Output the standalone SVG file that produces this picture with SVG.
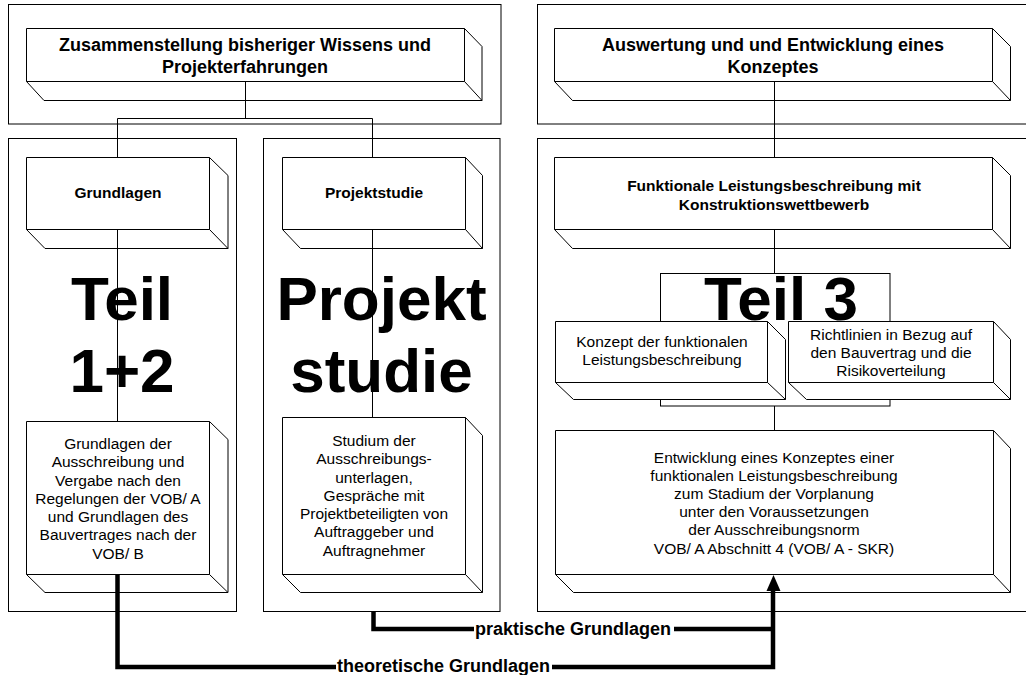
<svg xmlns="http://www.w3.org/2000/svg" width="1026" height="675" viewBox="0 0 1026 675">
  <style>
    .frame { fill: none; stroke: #000; stroke-width: 1; }
    .solid { fill: #fff; stroke: #000; stroke-width: 1; stroke-linejoin: miter; }
    .edge { fill: none; stroke: #000; stroke-width: 1; }
    .conn { fill: none; stroke: #000; stroke-width: 1; }
    .thick { fill: none; stroke: #000; stroke-width: 4.5; stroke-linejoin: miter; }
    text { font-family: "Liberation Sans", Arial, sans-serif; fill: #000; text-anchor: middle; }
    .h1 { font-size: 18px; font-weight: bold; }
    .h2 { font-size: 15.5px; font-weight: bold; }
    .body { font-size: 15.5px; }
    .big { font-size: 62px; font-weight: bold; }
    .lbl { font-size: 18px; font-weight: bold; text-anchor: start; }
  </style>

  <!-- outer frames -->
  <g id="frames">
    <rect class="frame" x="8.5" y="4.5" width="492.5" height="119.5"/>
    <rect class="frame" x="537.5" y="4.5" width="500" height="119.5"/>
    <rect class="frame" x="8.5" y="138.5" width="228" height="473"/>
    <rect class="frame" x="263.5" y="138.5" width="236.5" height="473"/>
    <rect class="frame" x="537.5" y="138.5" width="500" height="473"/>
  </g>

  <!-- 3D boxes -->
  <g id="box-zusammenstellung">
    <polygon class="solid" points="26.5,28.5 464.5,28.5 482,46.5 482,100.5 44,100.5 26.5,81.5"/>
    <path class="edge" d="M26.5 81.5 H464.5 V28.5 M464.5 81.5 L482 100.5"/>
    <text class="h1" x="245" y="50.5">Zusammenstellung bisheriger Wissens und</text>
    <text class="h1" x="245" y="73">Projekterfahrungen</text>
  </g>

  <g id="box-auswertung">
    <polygon class="solid" points="554.5,28.5 992.5,28.5 1010.5,46.5 1010.5,100.5 572.5,100.5 554.5,81.5"/>
    <path class="edge" d="M554.5 81.5 H992.5 V28.5 M992.5 81.5 L1010.5 100.5"/>
    <text class="h1" x="773" y="50.5">Auswertung und und Entwicklung eines</text>
    <text class="h1" x="773" y="73">Konzeptes</text>
  </g>

  <g id="box-grundlagen">
    <polygon class="solid" points="26.5,157.5 209.5,157.5 228,175.5 228,248.5 45,248.5 26.5,229.5"/>
    <path class="edge" d="M26.5 229.5 H209.5 V157.5 M209.5 229.5 L228 248.5"/>
    <text class="h2" x="118" y="198">Grundlagen</text>
  </g>

  <g id="box-projektstudie">
    <polygon class="solid" points="282.5,157.5 465.5,157.5 482.5,175.5 482.5,248.5 300.5,248.5 282.5,229.5"/>
    <path class="edge" d="M282.5 229.5 H465.5 V157.5 M465.5 229.5 L482.5 248.5"/>
    <text class="h2" x="374" y="198">Projektstudie</text>
  </g>

  <g id="box-funktionale">
    <polygon class="solid" points="554.5,157.5 992.5,157.5 1010.5,175.5 1010.5,248.5 572.5,248.5 554.5,229.5"/>
    <path class="edge" d="M554.5 229.5 H992.5 V157.5 M992.5 229.5 L1010.5 248.5"/>
    <text class="h2" x="774" y="191">Funktionale Leistungsbeschreibung mit</text>
    <text class="h2" x="774" y="209.5">Konstruktionswettbewerb</text>
  </g>

  <g id="box-grundlagen-vob">
    <polygon class="solid" points="26.5,421.5 209.5,421.5 228,439.5 228,592.5 45,592.5 26.5,574.5"/>
    <path class="edge" d="M26.5 574.5 H209.5 V421.5 M209.5 574.5 L228 592.5"/>
    <text class="body" x="118" y="449">Grundlagen der</text>
    <text class="body" x="118" y="467.25">Ausschreibung und</text>
    <text class="body" x="118" y="485.5">Vergabe nach den</text>
    <text class="body" x="118" y="503.75">Regelungen der VOB/ A</text>
    <text class="body" x="118" y="522">und Grundlagen des</text>
    <text class="body" x="118" y="540.25">Bauvertrages nach der</text>
    <text class="body" x="118" y="558.5">VOB/ B</text>
  </g>

  <g id="box-studium">
    <polygon class="solid" points="282.5,417.5 465.5,417.5 482.5,435.5 482.5,592.5 300.5,592.5 282.5,574.5"/>
    <path class="edge" d="M282.5 574.5 H465.5 V417.5 M465.5 574.5 L482.5 592.5"/>
    <text class="body" x="374" y="446">Studium der</text>
    <text class="body" x="374" y="464.25">Ausschreibungs-</text>
    <text class="body" x="374" y="482.5">unterlagen,</text>
    <text class="body" x="374" y="500.75">Gespräche mit</text>
    <text class="body" x="374" y="519">Projektbeteiligten von</text>
    <text class="body" x="374" y="537.25">Auftraggeber und</text>
    <text class="body" x="374" y="555.5">Auftragnehmer</text>
  </g>

  <g id="box-entwicklung">
    <polygon class="solid" points="555.5,430.5 993.5,430.5 1010.5,448.5 1010.5,592.5 573.5,592.5 555.5,574.5"/>
    <path class="edge" d="M555.5 574.5 H993.5 V430.5 M993.5 574.5 L1010.5 592.5"/>
    <text class="body" x="774" y="462.5">Entwicklung eines Konzeptes einer</text>
    <text class="body" x="774" y="480.7">funktionalen Leistungsbeschreibung</text>
    <text class="body" x="774" y="498.9">zum Stadium der Vorplanung</text>
    <text class="body" x="774" y="517.1">unter den Voraussetzungen</text>
    <text class="body" x="774" y="535.3">der Ausschreibungsnorm</text>
    <text class="body" x="774" y="553.5">VOB/ A Abschnitt 4 (VOB/ A - SKR)</text>
  </g>

  <!-- thin connectors -->
  <g id="connectors">
    <path class="conn" d="M245.5 81.5 V118.5 M117.5 157.5 V118.5 H372.5 V157.5"/>
    <path class="conn" d="M774.5 81.5 V157.5"/>
    <path class="conn" d="M117.5 229.5 V421.5"/>
    <path class="conn" d="M372.5 229.5 V417.5"/>
    <path class="conn" d="M774.5 229.5 V430.5"/>
  </g>

  <!-- large section titles -->
  <g id="title-teil12">
    <text class="big" x="122" y="320">Teil</text>
    <text class="big" x="122" y="392">1+2</text>
  </g>
  <g id="title-projektstudie">
    <text class="big" x="381.5" y="320">Projekt</text>
    <text class="big" x="381.5" y="392">studie</text>
  </g>

  <g id="title-teil3">
    <rect class="solid" x="660.5" y="273.5" width="229.5" height="132.5"/>
    <text class="big" x="781" y="319.5">Teil 3</text>
  </g>

  <g id="box-konzept">
    <polygon class="solid" points="555.5,321.5 767.5,321.5 785.5,339.5 785.5,399.5 573.5,399.5 555.5,382.5"/>
    <path class="edge" d="M555.5 382.5 H767.5 V321.5 M767.5 382.5 L785.5 399.5"/>
    <text class="body" x="662" y="347">Konzept der funktionalen</text>
    <text class="body" x="662" y="365">Leistungsbeschreibung</text>
  </g>

  <g id="box-richtlinien">
    <polygon class="solid" points="788.5,321.5 993.5,321.5 1010.5,339.5 1010.5,399.5 806.5,399.5 788.5,382.5"/>
    <path class="edge" d="M788.5 382.5 H993.5 V321.5 M993.5 382.5 L1010.5 399.5"/>
    <text class="body" x="891" y="339.5">Richtlinien in Bezug auf</text>
    <text class="body" x="891" y="357.5">den Bauvertrag und die</text>
    <text class="body" x="891" y="375.5">Risikoverteilung</text>
  </g>

  <!-- thick feed lines into the concept box -->
  <g id="feed-lines">
    <path class="thick" d="M117.5 574 V667 H336"/>
    <path class="thick" d="M552 667 H773 V589"/>
    <path class="thick" d="M373.5 611.5 V629 H474"/>
    <path class="thick" d="M674 629 H773"/>
    <polygon points="773.5,575 766.5,591 780.5,591" fill="#000"/>
    <text class="lbl" x="337" y="672">theoretische Grundlagen</text>
    <text class="lbl" x="475" y="635">praktische Grundlagen</text>
  </g>
</svg>
